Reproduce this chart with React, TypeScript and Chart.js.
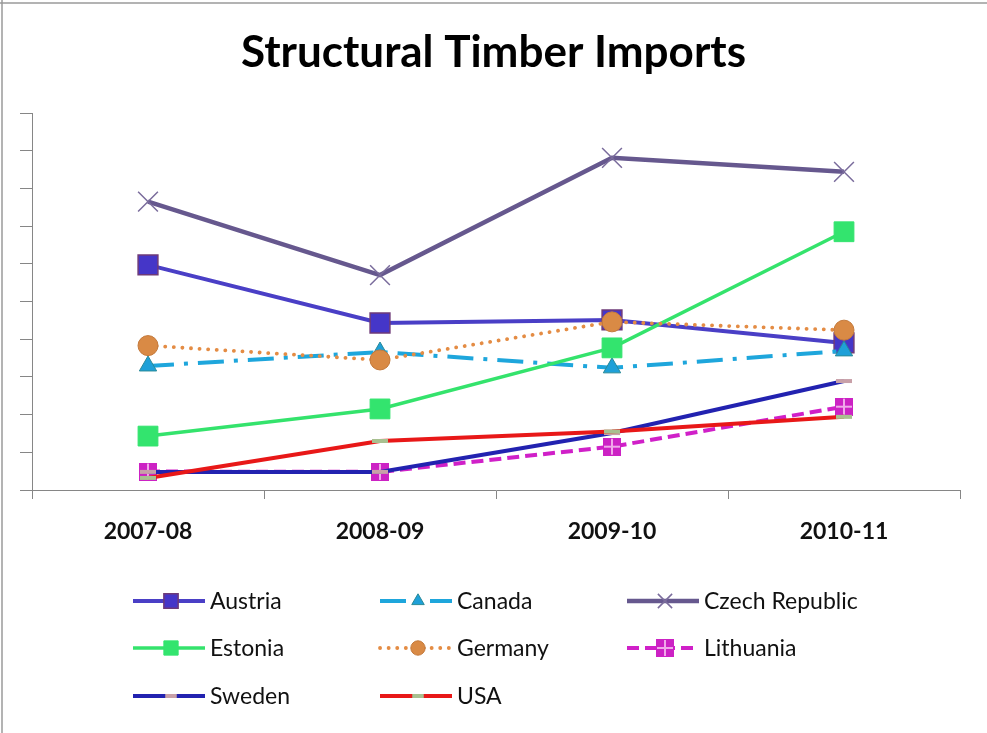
import React, { useEffect, useRef } from "react";
import { Chart, registerables } from "chart.js";
import { drawPoint } from "chart.js/helpers";

Chart.register(...registerables);

const TITLE = "Structural Timber Imports";
const CATEGORIES = ["2007-08", "2008-09", "2009-10", "2010-11"];

const AUSTRIA = [5.97, 4.43, 4.51, 3.9];
const CANADA = [3.29, 3.66, 3.24, 3.69];
const CZECH = [7.65, 5.7, 8.81, 8.44];
const ESTONIA = [1.43, 2.15, 3.77, 6.85];
const GERMANY = [3.83, 3.45, 4.46, 4.24];
const LITHUANIA = [0.49, 0.48, 1.15, 2.21];
const SWEDEN = [0.48, 0.48, 1.51, 2.89];
const USA = [0.32, 1.3, 1.55, 1.94];

const Y_MIN = 0;
const Y_MAX = 10;

const FONT = "Lato, 'Open Sans', sans-serif";

function makeLithuaniaMarker(size: number) {
  const c = document.createElement("canvas");
  c.width = size;
  c.height = size;
  const g = c.getContext("2d")!;
  g.fillStyle = "#cc22c4";
  g.fillRect(0, 0, size, size);
  g.strokeStyle = "#f0a8ea";
  g.lineWidth = 2;
  g.beginPath();
  g.moveTo(size / 2, 1);
  g.lineTo(size / 2, size - 1);
  g.moveTo(1, size / 2);
  g.lineTo(size - 1, size / 2);
  g.stroke();
  return c;
}

const frameAndLegend = {
  id: "frameAndLegend",
  beforeDraw(chart: any) {
    const ctx = chart.ctx;
    ctx.save();
    ctx.fillStyle = "#ffffff";
    ctx.fillRect(0, 0, chart.width, chart.height);
    ctx.strokeStyle = "#9a9a9a";
    ctx.lineWidth = 1.5;
    ctx.beginPath();
    ctx.moveTo(0, 3);
    ctx.lineTo(chart.width, 3);
    ctx.moveTo(2, 0);
    ctx.lineTo(2, chart.height);
    ctx.stroke();
    ctx.restore();
  },
  afterDraw(chart: any) {
    const ctx = chart.ctx;
    const colX = [133, 380, 627];
    const rowY = [601, 648, 696];
    chart.data.datasets.forEach((ds: any, i: number) => {
      const x0 = colX[i % 3];
      const y = rowY[Math.floor(i / 3)];
      ctx.save();
      ctx.strokeStyle = ds.borderColor;
      ctx.lineWidth = ds.borderWidth;
      ctx.lineCap = ds.borderCapStyle || "butt";
      ctx.setLineDash(ds.borderDash || []);
      ctx.beginPath();
      ctx.moveTo(x0, y);
      ctx.lineTo(x0 + 72, y);
      ctx.stroke();
      ctx.setLineDash([]);
      ctx.fillStyle = ds.pointBackgroundColor;
      ctx.strokeStyle = ds.pointBorderColor;
      ctx.lineWidth = ds.pointBorderWidth;
      drawPoint(
        ctx,
        {
          pointStyle: ds.pointStyle,
          radius: ds.pointRadius * 0.72,
          rotation: 0,
          borderWidth: ds.pointBorderWidth,
        },
        x0 + 38,
        y
      );
      ctx.fillStyle = "#111111";
      ctx.font = `23px ${FONT}`;
      ctx.textBaseline = "middle";
      ctx.textAlign = "left";
      ctx.fillText(ds.label, x0 + 77, y + 1);
      ctx.restore();
    });
  },
};

export default function App() {
  const ref = useRef<HTMLCanvasElement | null>(null);

  useEffect(() => {
    document.body.style.margin = "0";
    const lith = makeLithuaniaMarker(18);
    const mk = (
      label: string,
      data: number[],
      color: string,
      width: number,
      dash: number[],
      pointStyle: any,
      radius: number,
      pFill: string,
      pBorder: string,
      pBorderWidth: number,
      cap: string = "butt"
    ) => ({
      label,
      data,
      borderColor: color,
      borderWidth: width,
      borderDash: dash,
      borderCapStyle: cap,
      pointStyle,
      pointRadius: radius,
      pointHoverRadius: radius,
      pointBackgroundColor: pFill,
      pointBorderColor: pBorder,
      pointBorderWidth: pBorderWidth,
      tension: 0,
      fill: false,
      yAxisID: "y",
    });
    const datasets: any[] = [
      mk("Austria", AUSTRIA, "#4a3fc6", 4, [], "rect", 14, "#4536c8", "#6e3a78", 1.5),
      mk("Canada", CANADA, "#1ea6dc", 4, [26, 10, 4, 10], "triangle", 10, "#1ea0d8", "#2a8a98", 1),
      mk("Czech Republic", CZECH, "#66588e", 4.5, [], "crossRot", 14, "#7a6c9c", "#7a6c9c", 1.5),
      mk("Estonia", ESTONIA, "#34e36c", 3.5, [], "rect", 14, "#33e46e", "#33e46e", 1),
      mk("Germany", GERMANY, "#e48c44", 3.8, [0.1, 8.5], "circle", 10, "#d98a45", "#c47a3c", 1, "round"),
      mk("Lithuania", LITHUANIA, "#d020c8", 4, [12, 6], lith, 9, "#cc22c4", "#cc22c4", 0),
      mk("Sweden", SWEDEN, "#2222b0", 4, [], "line", 8, "#c8a0a8", "#c8a0a8", 4),
      mk("USA", USA, "#e81818", 4, [], "line", 8, "#a8c090", "#a8c090", 4),
    ];
    datasets.forEach((d, i) => (d.order = datasets.length - i));

    const chart = new Chart(ref.current!, {
      type: "line",
      data: { labels: CATEGORIES, datasets },
      plugins: [frameAndLegend],
      options: {
        animation: false,
        responsive: true,
        maintainAspectRatio: false,
        layout: { padding: 0 },
        plugins: {
          legend: { display: false },
          tooltip: { enabled: false },
          title: {
            display: true,
            text: TITLE,
            color: "#000000",
            font: { family: FONT, size: 44, weight: "bold", lineHeight: 1.2 },
            padding: { top: 26.6, bottom: 33.6 },
          },
        },
        scales: {
          x: {
            type: "category",
            offset: true,
            grid: {
              display: true,
              offset: true,
              drawOnChartArea: false,
              drawTicks: true,
              tickLength: 9,
              color: "#868686",
            },
            border: { display: true, color: "#868686", width: 1 },
            ticks: {
              color: "#111111",
              font: { family: FONT, size: 23, weight: "bold" },
              padding: 19,
              maxRotation: 0,
            },
            afterFit: (s: any) => {
              s.height = 243;
            },
          },
          y: {
            min: Y_MIN,
            max: Y_MAX,
            position: "left",
            grid: {
              display: true,
              drawOnChartArea: false,
              drawTicks: true,
              tickLength: 12,
              color: "#868686",
            },
            border: { display: true, color: "#868686", width: 1 },
            ticks: { display: false, stepSize: 1 },
            afterFit: (s: any) => {
              s.width = 32;
            },
          },
          yRight: {
            min: Y_MIN,
            max: Y_MAX,
            position: "right",
            grid: { display: false, drawOnChartArea: false, drawTicks: false },
            border: { display: false },
            ticks: { display: false },
            afterFit: (s: any) => {
              s.width = 27;
            },
          },
        },
      },
    });
    return () => chart.destroy();
  }, []);

  return (
    <div style={{ width: 987, height: 733, position: "relative" }}>
      <canvas ref={ref} />
    </div>
  );
}
